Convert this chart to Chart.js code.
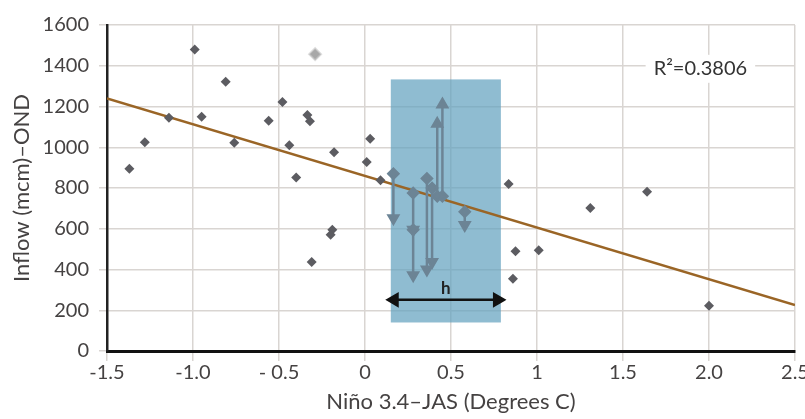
<!DOCTYPE html>
<html>
<head>
<meta charset="utf-8">
<script src="https://cdn.jsdelivr.net/npm/chart.js@4/dist/chart.umd.min.js"></script>
<style>
  html, body { margin: 0; background: #fff; }
  #wrap { width: 805px; height: 419px; }
</style>
</head>
<body>
<div id="wrap"><canvas id="chart"></canvas></div>
<script>
  // scatter years (Nino 3.4 JAS vs OND inflow)
  const pointX = [-1.37, -1.28, -1.14, -0.99, -0.95, -0.81, -0.76, -0.56, -0.48, -0.44, -0.40, -0.335, -0.32, -0.31, -0.19, -0.20, -0.18, 0.01, 0.03, 0.09, 0.835, 0.875, 0.86, 1.01, 1.31, 1.64, 2.0];
  const pointY = [895, 1025, 1145, 1480, 1150, 1322, 1022, 1130, 1222, 1010, 852, 1158, 1128, 437, 595, 570, 975, 928, 1042, 838, 820, 490, 355, 495, 702, 782, 222];

  // faded point
  const fadedX = [-0.29];
  const fadedY = [1457];

  // shifts inside the band
  const arrowX = [0.165, 0.28, 0.28, 0.36, 0.39, 0.42, 0.45, 0.58];
  const arrowFrom = [870, 775, 595, 847, 800, 760, 760, 683];
  const arrowTo = [652, 595, 372, 400, 437, 1115, 1210, 618];

  // regression line
  const trendX = [-1.5, 2.5];
  const trendY = [1240, 226];
  const rSquared = "R\u00b2=0.3806";

  // shaded band and its width marker
  const bandX = [0.15, 0.79];
  const bandY = [140, 1333];
  const hX = [0.17, 0.77];
  const hY = [251, 251];

  const xTickLabels = ["-1.5", "-1.0", "- 0.5", "0", "0.5", "1", "1.5", "2.0", "2.5"];
  const yTickLabels = ["0", "200", "400", "600", "800", "1000", "1200", "1400", "1600"];

  const FONT = "Lato, 'Open Sans', sans-serif";
  const ARROW = "#6c8495";

  const arrowSets = arrowX.map((x, i) => {
    const down = arrowTo[i] < arrowFrom[i];
    return {
      type: "line",
      data: [{ x: x, y: arrowFrom[i] }, { x: x, y: arrowTo[i] }],
      borderColor: ARROW,
      backgroundColor: ARROW,
      borderWidth: 2.5,
      pointStyle: ["rectRot", "triangle"],
      pointRotation: [0, down ? 180 : 0],
      pointRadius: [5, 5.5],
      order: 1,
    };
  });

  const decor = {
    id: "decor",
    beforeDatasetsDraw(chart) {
      const { ctx, scales: { x, y } } = chart;
      const l = x.getPixelForValue(bandX[0]);
      const r = x.getPixelForValue(bandX[1]);
      const t = y.getPixelForValue(bandY[1]);
      const b = y.getPixelForValue(bandY[0]);
      ctx.save();
      ctx.fillStyle = "rgba(95,160,190,0.7)";
      ctx.fillRect(l, t, r - l, b - t);
      ctx.restore();
    },
    afterDatasetsDraw(chart) {
      const { ctx, scales: { x, y } } = chart;
      ctx.save();
      ctx.font = "bold 17px " + FONT;
      ctx.fillStyle = "#222";
      ctx.textAlign = "center";
      ctx.textBaseline = "middle";
      ctx.fillText("h", (x.getPixelForValue(hX[0]) + x.getPixelForValue(hX[1])) / 2, y.getPixelForValue(hY[0]) - 11);

      ctx.font = "20px " + FONT;
      const tx = x.getPixelForValue(1.95);
      const ty = y.getPixelForValue(1385);
      const w = ctx.measureText(rSquared).width;
      ctx.fillStyle = "#fff";
      ctx.fillRect(tx - w / 2 - 8, ty - 14, w + 16, 28);
      ctx.fillStyle = "#333";
      ctx.fillText(rSquared, tx, ty);
      ctx.restore();
    },
  };

  new Chart(document.getElementById("chart"), {
    type: "scatter",
    data: {
      datasets: [
        {
          type: "line",
          data: hX.map((x, i) => ({ x: x, y: hY[i] })),
          borderColor: "#111",
          backgroundColor: "#111",
          borderWidth: 2.5,
          pointStyle: "triangle",
          pointRotation: [-90, 90],
          pointRadius: 6.5,
          order: 0,
        },
        ...arrowSets,
        {
          data: pointX.map((x, i) => ({ x: x, y: pointY[i] })),
          pointStyle: "rectRot",
          pointRadius: 5,
          backgroundColor: "#5c5c61",
          borderWidth: 0,
          order: 2,
        },
        {
          data: fadedX.map((x, i) => ({ x: x, y: fadedY[i] })),
          pointStyle: "rectRot",
          pointRadius: 6,
          backgroundColor: "#a8a8a8",
          borderColor: "rgba(200,200,200,0.6)",
          borderWidth: 2,
          order: 2,
        },
        {
          type: "line",
          data: trendX.map((x, i) => ({ x: x, y: trendY[i] })),
          borderColor: "#9a6526",
          borderWidth: 2.5,
          pointRadius: 0,
          order: 3,
        },
      ],
    },
    options: {
      responsive: true,
      maintainAspectRatio: false,
      animation: false,
      layout: { padding: { top: 25, right: 0, left: 0, bottom: 0 } },
      plugins: {
        legend: { display: false },
        tooltip: { enabled: false },
      },
      scales: {
        x: {
          type: "linear",
          min: -1.5,
          max: 2.5,
          ticks: {
            stepSize: 0.5,
            color: "#454242",
            font: { family: FONT, size: 20 },
            padding: 0,
            maxRotation: 0,
            callback: (v, i) => xTickLabels[i],
          },
          grid: { color: "#d9d5d2", lineWidth: 1.5, tickLength: 10 },
          border: { color: "#111", width: 3 },
          title: {
            display: true,
            text: "Niño 3.4–JAS (Degrees C)",
            color: "#454242",
            font: { family: FONT, size: 22 },
            padding: { top: 0, bottom: 4 },
          },
          afterFit: (s) => { s.height = 68; s.paddingRight = 10; },
        },
        y: {
          min: 0,
          max: 1600,
          ticks: {
            stepSize: 200,
            color: "#454242",
            font: { family: FONT, size: 20 },
            padding: 10,
            callback: (v, i) => yTickLabels[i],
          },
          grid: { color: "#d9d5d2", lineWidth: 1.5, tickLength: 8 },
          border: { color: "#222", width: 2.5 },
          title: {
            display: true,
            text: "Inflow (mcm)–OND",
            color: "#454242",
            font: { family: FONT, size: 22 },
            padding: { top: 9, bottom: 0 },
          },
          afterFit: (s) => { s.width = 107; },
        },
      },
    },
    plugins: [decor],
  });
</script>
</body>
</html>
